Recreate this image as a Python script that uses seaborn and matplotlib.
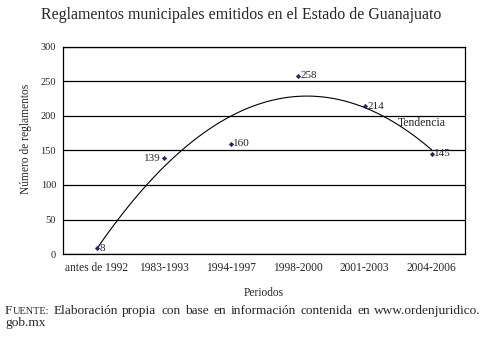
"""
Reglamentos municipales emitidos en el Estado de Guanajuato
"""
import matplotlib
matplotlib.use('Agg')
import matplotlib.pyplot as plt
import seaborn as sns
import numpy as np
import pandas as pd

periodos = ['antes de 1992', '1983-1993', '1994-1997', '1998-2000', '2001-2003', '2004-2006']
reglamentos = [8, 139, 160, 258, 214, 145]
# posición de la etiqueta de cada punto: 'r' derecha, 'l' izquierda
lado_etiqueta = ['r', 'l', 'r', 'r', 'r', 'r']
y_ticks = [0, 50, 100, 150, 200, 250, 300]

titulo = 'Reglamentos municipales emitidos en el Estado de Guanajuato'
fuente_1 = 'Elaboración propia con base en información contenida en www.ordenjuridico.'
fuente_2 = 'gob.mx'

sns.set_style('white')
plt.rcParams['font.family'] = ['Liberation Serif', 'DejaVu Serif']

df = pd.DataFrame({'x': np.arange(len(periodos)), 'y': reglamentos})

W, H = 485, 338
fig = plt.figure(figsize=(W / 100, H / 100), dpi=100)
ax = fig.add_axes([0.130, 0.2485, 0.829, 0.6125])

# línea de tendencia polinómica (orden 2)
sns.regplot(data=df, x='x', y='y', order=2, ci=None, scatter=False,
            line_kws={'color': 'black', 'linewidth': 0.8}, ax=ax)
sns.scatterplot(data=df, x='x', y='y', marker='D', s=6, color='#23235f',
                edgecolor='#23235f', zorder=5, ax=ax)

for xi, yi, lado in zip(df['x'], df['y'], lado_etiqueta):
    if lado == 'r':
        ax.annotate(str(yi), (xi, yi), xytext=(2, 0), textcoords='offset points',
                    ha='left', va='center', fontsize=8)
    else:
        ax.annotate(str(yi), (xi, yi), xytext=(-2, 0), textcoords='offset points',
                    ha='right', va='center', fontsize=8)

ax.text(4.5, 190, 'Tendencia', ha='left', va='center', fontsize=8.5)

ax.set_xlim(-0.5, len(periodos) - 0.5)
ax.set_ylim(0, 300)
ax.set_yticks(y_ticks)
ax.set_yticklabels([str(t) for t in y_ticks], fontsize=7.5)
ax.set_xticks(df['x'])
ax.set_xticklabels(periodos, fontsize=8.3)
ax.set_xticks(np.arange(-0.5, len(periodos), 1), minor=True)
ax.tick_params(axis='x', which='major', length=0, pad=6)
ax.tick_params(axis='x', which='minor', length=4, width=0.8, color='black', direction='out')
ax.tick_params(axis='y', length=3, width=0.8, color='black', direction='out', pad=2)

ax.yaxis.grid(True, color='black', linewidth=0.9)
ax.set_axisbelow(True)
for s in ax.spines.values():
    s.set_color('black')
    s.set_linewidth(0.9)

ax.set_xlabel('Periodos', fontsize=8.3, labelpad=9)
ax.set_ylabel('Número de reglamentos', fontsize=8.3)
ax.yaxis.set_label_coords(-0.078, 0.555)

fig.text(0.497, 0.955, titulo, ha='center', va='center', fontsize=11.4)

# nota de fuente (primera línea justificada)
fig.canvas.draw()
renderer = fig.canvas.get_renderer()
y1 = 1 - 311 / H
f_big = fig.text(5 / W, y1, 'F', ha='left', va='center', fontsize=9.6)
w_f = f_big.get_window_extent(renderer).width
f_rest = fig.text((5 + w_f + 0.3) / W, y1, 'UENTE:', ha='left', va='center', fontsize=7.4)
fin_fuente = f_rest.get_window_extent(renderer).x1

palabras = fuente_1.split()
objs = [fig.text(0, y1, p, ha='left', va='center', fontsize=9.6) for p in palabras]
anchos = [o.get_window_extent(renderer).width for o in objs]
x0, x1 = fin_fuente + 4, 481
hueco = (x1 - x0 - sum(anchos)) / (len(palabras) - 1)
xp = x0
for o, w in zip(objs, anchos):
    o.set_x(xp / W)
    xp += w + hueco
fig.text(5 / W, 1 - 323 / H, fuente_2, ha='left', va='center', fontsize=9.6)

fig.savefig('out.png', dpi=100)
